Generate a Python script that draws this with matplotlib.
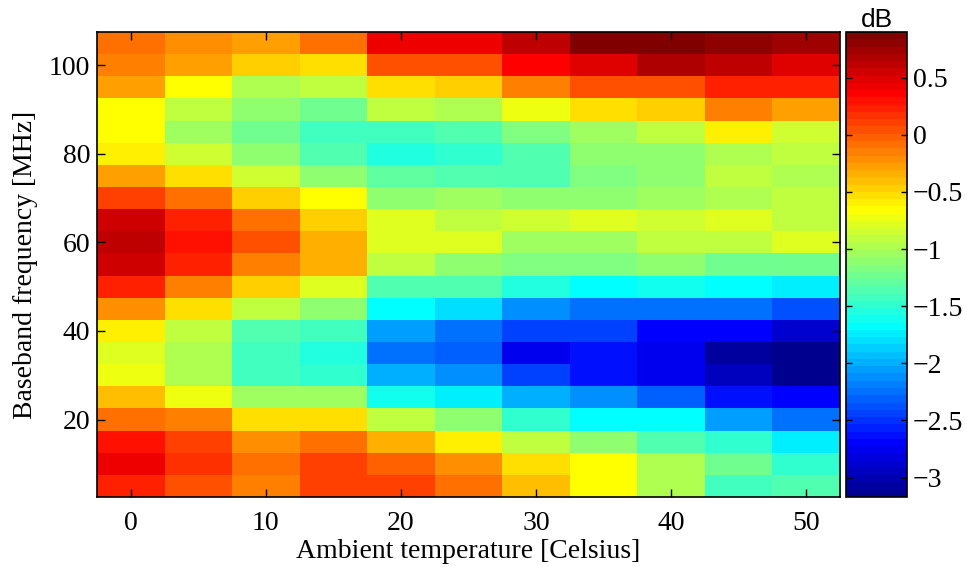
import matplotlib.pyplot as plt
from matplotlib.colors import ListedColormap
import numpy as np

# Temperaturas (columnas) y frecuencias (filas)
temperaturas = [0, 5, 10, 15, 20, 25, 30, 35, 40, 45, 50]
frecuencias = [105, 100, 95, 90, 85, 80, 75, 70, 65, 60, 55,
               50, 45, 40, 35, 30, 25, 20, 15, 10, 5]

# Valores en dB, de arriba (105 MHz) hacia abajo (5 MHz)
fila_105 = [-0.09, -0.20, -0.30, -0.09, 0.42, 0.42, 0.62, 0.87, 0.87, 0.81, 0.74]
fila_100 = [-0.12, -0.28, -0.45, -0.52, 0.04, 0.04, 0.36, 0.48, 0.68, 0.62, 0.48]
fila_95 = [-0.25, -0.66, -0.97, -0.91, -0.52, -0.45, -0.15, 0.04, 0.04, 0.23, 0.23]
fila_90 = [-0.66, -0.91, -1.10, -1.23, -0.91, -0.97, -0.72, -0.53, -0.46, -0.18, -0.28]
fila_85 = [-0.66, -1.03, -1.23, -1.42, -1.42, -1.36, -1.16, -1.03, -0.91, -0.60, -0.85]
fila_80 = [-0.59, -0.85, -1.10, -1.36, -1.55, -1.50, -1.36, -1.10, -1.10, -0.97, -0.91]
fila_75 = [-0.28, -0.52, -0.85, -1.10, -1.29, -1.36, -1.36, -1.16, -1.10, -0.91, -0.97]
fila_70 = [0.11, -0.09, -0.45, -0.66, -1.10, -1.03, -1.10, -1.10, -1.03, -0.97, -0.91]
fila_65 = [0.55, 0.23, -0.09, -0.45, -0.78, -0.91, -0.85, -0.78, -0.85, -0.78, -0.91]
fila_60 = [0.62, 0.30, 0.04, -0.34, -0.78, -0.78, -1.03, -1.03, -0.91, -0.91, -0.78]
fila_55 = [0.55, 0.23, -0.15, -0.34, -0.91, -1.10, -1.16, -1.16, -1.10, -1.23, -1.23]
fila_50 = [0.23, -0.15, -0.45, -0.78, -1.36, -1.36, -1.55, -1.67, -1.61, -1.67, -1.73]
fila_45 = [-0.20, -0.52, -0.91, -1.10, -1.67, -1.81, -2.12, -2.24, -2.24, -2.24, -2.37]
fila_40 = [-0.59, -0.91, -1.36, -1.42, -2.05, -2.24, -2.44, -2.44, -2.69, -2.69, -2.88]
fila_35 = [-0.78, -0.97, -1.42, -1.55, -2.24, -2.33, -2.75, -2.63, -2.78, -3.07, -3.16]
fila_30 = [-0.72, -0.97, -1.42, -1.48, -1.99, -2.15, -2.44, -2.63, -2.75, -2.95, -3.16]
fila_25 = [-0.38, -0.72, -1.03, -1.03, -1.61, -1.73, -1.99, -2.12, -2.31, -2.60, -2.69]
fila_20 = [-0.09, -0.15, -0.52, -0.52, -0.91, -1.10, -1.48, -1.67, -1.67, -2.05, -2.24]
fila_15 = [0.30, 0.11, -0.20, -0.09, -0.34, -0.59, -0.91, -1.10, -1.36, -1.48, -1.73]
fila_10 = [0.42, 0.17, -0.09, 0.11, -0.02, -0.22, -0.52, -0.66, -0.97, -1.23, -1.48]
fila_5 = [0.23, 0.04, -0.15, 0.11, 0.11, -0.09, -0.38, -0.66, -0.97, -1.42, -1.36]

datos = np.array([fila_105, fila_100, fila_95, fila_90, fila_85, fila_80, fila_75,
                  fila_70, fila_65, fila_60, fila_55, fila_50, fila_45, fila_40,
                  fila_35, fila_30, fila_25, fila_20, fila_15, fila_10, fila_5])

# Bordes de las celdas (paso de 5 en ambos ejes)
x = np.array(temperaturas, dtype=float)
y = np.array(frecuencias, dtype=float)
x_bordes = np.append(x - 2.5, x[-1] + 2.5)
y_bordes = np.append(y + 2.5, y[-1] - 2.5)

# Paleta jet de 64 niveles al estilo MATLAB
t = np.arange(1, 65) / 64
rojo = np.clip(1.5 - np.abs(4 * t - 3), 0, 1)
verde = np.clip(1.5 - np.abs(4 * t - 2), 0, 1)
azul = np.clip(1.5 - np.abs(4 * t - 1), 0, 1)
jet64 = ListedColormap(np.column_stack([rojo, verde, azul]))

plt.rcParams['font.family'] = ['Liberation Serif', 'DejaVu Serif']
plt.rcParams['axes.unicode_minus'] = True

fig = plt.figure(figsize=(9.67, 5.67), dpi=100)
ax = fig.add_axes([97/967, 70/567, 743/967, 465/567])
cax = fig.add_axes([846/967, 70/567, 61/967, 465/567])

malla = ax.pcolormesh(x_bordes, y_bordes, datos, cmap=jet64, vmin=-3.17, vmax=0.90)
ax.set_xlim(-2.5, 52.5)
ax.set_ylim(2.5, 107.5)
ax.set_xticks([0, 10, 20, 30, 40, 50])
ax.set_yticks([20, 40, 60, 80, 100])
ax.tick_params(direction='in', top=True, right=True, labelsize=20, length=6, width=1)
ax.tick_params(axis='x', pad=10)
ax.tick_params(axis='y', pad=5)
ax.set_xlabel("Ambient temperature [Celsius]", fontsize=20, labelpad=2)
ax.set_ylabel("Baseband frequency [MHz]", fontsize=20, labelpad=8)
for lado in ax.spines.values():
    lado.set_linewidth(1.2)

cb = fig.colorbar(malla, cax=cax)
cb.set_ticks([0.5, 0, -0.5, -1, -1.5, -2, -2.5, -3])
cb.set_ticklabels(['0.5', '0', '\u22120.5', '\u22121', '\u22121.5', '\u22122', '\u22122.5', '\u22123'])
cax.tick_params(direction='in', left=True, right=True, labelsize=20, length=4, width=1, pad=4)
cb.outline.set_linewidth(1.2)
cax.set_title("dB", fontsize=19, family=['Liberation Sans', 'DejaVu Sans'], pad=3)

fig.savefig("out.png", dpi=100)
